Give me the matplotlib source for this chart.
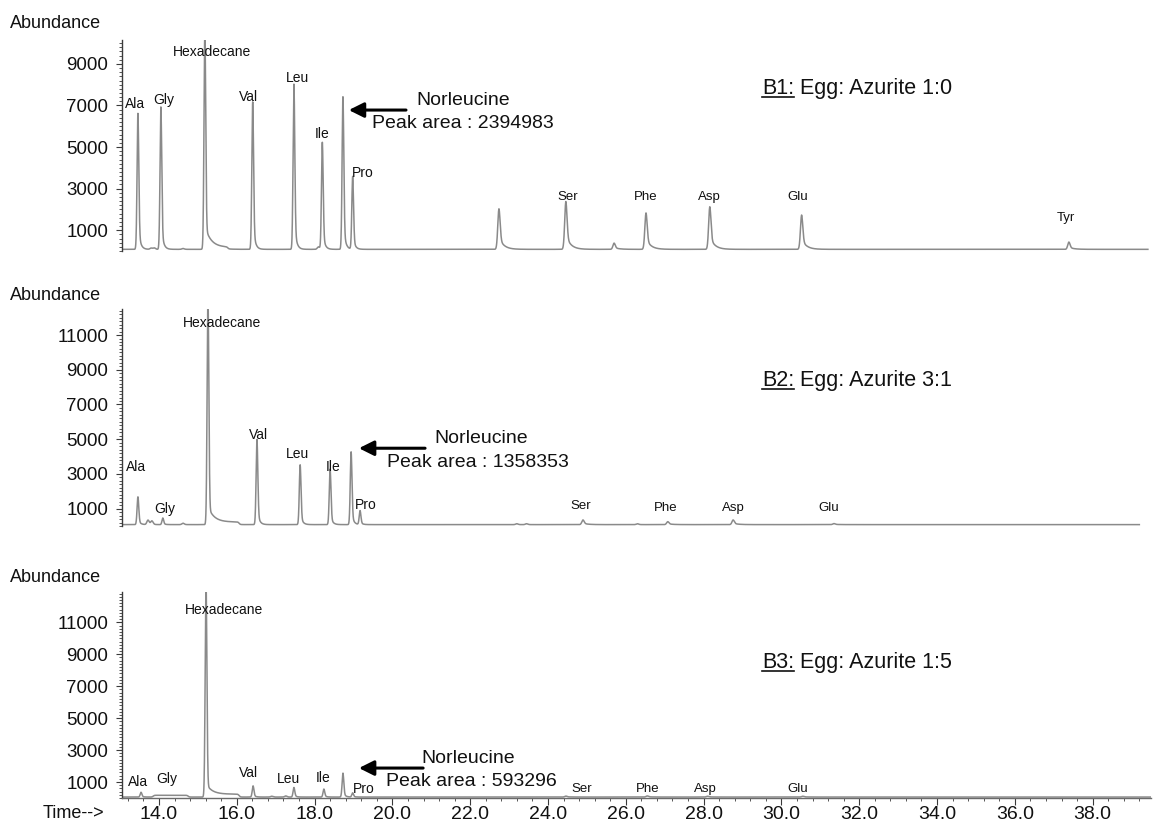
import numpy as np
import matplotlib
matplotlib.use('Agg')
import matplotlib.pyplot as plt
from matplotlib.ticker import MultipleLocator, FixedLocator
from matplotlib.lines import Line2D

plt.rcParams['font.family'] = ['Liberation Sans', 'DejaVu Sans']

# ------------------------------------------------------------------ data
# retention times (min) and peak heights (abundance above baseline)
# Panel B1: Egg: Azurite 1:0
b1_rt = [13.46, 14.05, 15.18, 16.41, 17.47, 18.20, 18.73, 18.98,
         22.74, 24.46, 25.70, 26.52, 28.16, 30.52, 37.39]
b1_height = [6550, 6850, 10400, 7100, 7950, 5150, 7350, 3500,
             1950, 2300, 300, 1750, 2050, 1650, 350]
b1_minor_rt = [13.80, 13.88, 14.62, 18.10]
b1_minor_height = [60, 70, 40, 120]
b1_labels = ['Ala', 'Gly', 'Hexadecane', 'Val', 'Leu', 'Ile', 'Pro',
             'Ser', 'Phe', 'Asp', 'Glu', 'Tyr']
b1_label_t = [13.38, 14.13, 15.36, 16.31, 17.57, 18.19, 19.24,
              24.51, 26.52, 28.16, 30.43, 37.32]
b1_label_y = [7070, 7260, 9570, 7400, 8320, 5620, 3750,
              2600, 2600, 2600, 2600, 1590]
b1_baseline = 80
b1_norleucine_area = '2394983'
b1_title = ('B1:', 'Egg: Azurite 1:0')

# Panel B2: Egg: Azurite 3:1
b2_rt = [13.46, 14.10, 15.26, 16.52, 17.63, 18.40, 18.94, 19.17,
         24.90, 27.08, 28.76, 31.35]
b2_height = [1600, 380, 13000, 4900, 3450, 3200, 4200, 800,
             270, 170, 270, 60]
b2_minor_rt = [13.72, 13.82, 14.62, 23.20, 23.45, 26.30]
b2_minor_height = [260, 210, 80, 50, 50, 50]
b2_labels = ['Ala', 'Gly', 'Hexadecane', 'Val', 'Leu', 'Ile', 'Pro',
             'Ser', 'Phe', 'Asp', 'Glu']
b2_label_t = [13.41, 14.15, 15.62, 16.55, 17.55, 18.47, 19.32,
              24.85, 27.03, 28.76, 31.22]
b2_label_y = [3390, 980, 11720, 5230, 4140, 3390, 1210,
              1150, 1030, 1030, 1030]
b2_baseline = 80
b2_norleucine_area = '1358353'
b2_title = ('B2:', 'Egg: Azurite 3:1')

# Panel B3: Egg: Azurite 1:5
b3_rt = [13.54, 15.21, 16.42, 17.47, 18.24, 18.73, 18.98,
         24.46, 26.55, 28.10, 30.55]
b3_height = [300, 13300, 700, 600, 500, 1500, 260,
             60, 70, 50, 50]
b3_minor_rt = [16.90, 17.26]
b3_minor_height = [50, 70]
b3_labels = ['Ala', 'Gly', 'Hexadecane', 'Val', 'Leu', 'Ile', 'Pro',
             'Ser', 'Phe', 'Asp', 'Glu']
b3_label_t = [13.46, 14.21, 15.67, 16.31, 17.34, 18.22, 19.27,
              24.87, 26.55, 28.04, 30.43]
b3_label_y = [1000, 1190, 11750, 1560, 1190, 1250, 560,
              560, 560, 560, 560]
b3_baseline = 60
b3_norleucine_area = '593296'
b3_title = ('B3:', 'Egg: Azurite 1:5')

x_tick_labels = ['14.0', '16.0', '18.0', '20.0', '22.0', '24.0', '26.0',
                 '28.0', '30.0', '32.0', '34.0', '36.0', '38.0']

# ------------------------------------------------------------------ layout / style
W, H = 1157, 827
fig = plt.figure(figsize=(W / 100, H / 100), dpi=100)
LINE = '#8a8a8a'
AX = '#3a3a3a'
XMIN, XMAX = 13.05, 39.5

panels = [
    dict(rt=b1_rt, h=b1_height, mrt=b1_minor_rt, mh=b1_minor_height,
         labels=b1_labels, lt=b1_label_t, ly=b1_label_y, base=b1_baseline,
         area=b1_norleucine_area, title=b1_title,
         px=(40, 251), ylim=10150, yticks=[1000, 3000, 5000, 7000, 9000],
         end=39.42, hex_tail=(0.10, 0.15), shelves=[(15.18, 15.77, 100)],
         arrow=((18.88, 6780), (20.35, 6780)),
         nor=(20.61, 7260), pa=(19.48, 6150), tpos=(29.5, 7840),
         abund_y=23),
    dict(rt=b2_rt, h=b2_height, mrt=b2_minor_rt, mh=b2_minor_height,
         labels=b2_labels, lt=b2_label_t, ly=b2_label_y, base=b2_baseline,
         area=b2_norleucine_area, title=b2_title,
         px=(309, 526), ylim=12500, yticks=[1000, 3000, 5000, 7000, 9000, 11000],
         end=39.2, hex_tail=(0.07, 0.15), shelves=[(15.26, 16.06, 150)],
         arrow=((19.14, 4480), (20.84, 4480)),
         nor=(21.07, 5060), pa=(19.86, 3680), tpos=(29.5, 8390),
         abund_y=295),
    dict(rt=b3_rt, h=b3_height, mrt=b3_minor_rt, mh=b3_minor_height,
         labels=b3_labels, lt=b3_label_t, ly=b3_label_y, base=b3_baseline,
         area=b3_norleucine_area, title=b3_title,
         px=(592, 798), ylim=12900, yticks=[1000, 3000, 5000, 7000, 9000, 11000],
         end=39.5, hex_tail=(0.05, 0.15), shelves=[(15.21, 16.06, 180), (13.85, 14.75, 110)],
         arrow=((19.14, 1875), (20.79, 1875)),
         nor=(20.74, 2500), pa=(19.84, 1060), tpos=(29.5, 8500),
         abund_y=578),
]


def peak(t, rt, h, sigma, frac, tau):
    d = t - rt
    g = np.exp(-0.5 * (d / sigma) ** 2)
    right = (1 - frac) * g + frac * np.exp(-np.clip(d, 0, None) / tau)
    return h * np.where(d < 0, g, right)


def shelf(t, a, b, lev, w=0.015):
    return lev / (1 + np.exp(-(t - a) / w)) / (1 + np.exp((t - b) / w))


title_texts = []
for i, p in enumerate(panels):
    top_px, zero_px = p['px']
    ax = fig.add_axes([122 / W, 1 - zero_px / H, (1151 - 122) / W, (zero_px - top_px) / H])
    t = np.linspace(XMIN, p['end'], 12000)
    y = np.full_like(t, float(p['base']))
    for k, (rt, h) in enumerate(zip(p['rt'], p['h'])):
        if k == int(np.argmax(p['h'])):
            fr, ta = p['hex_tail']
            y += peak(t, rt, h, 0.022, fr, ta)
        elif rt < 20:
            y += peak(t, rt, h, 0.022, 0.2, 0.05)
        else:
            y += peak(t, rt, h, 0.03, 0.3, 0.12)
    for rt, h in zip(p['mrt'], p['mh']):
        y += peak(t, rt, h, 0.03, 0.2, 0.05)
    for a, b, lev in p['shelves']:
        y += shelf(t, a, b, lev)
    ax.plot(t, y, color=LINE, lw=1.1)

    ax.set_xlim(XMIN, XMAX)
    ax.set_ylim(0, p['ylim'])
    ax.patch.set_alpha(0)
    for s in ['top', 'right']:
        ax.spines[s].set_visible(False)
    ax.spines['left'].set_color(AX)
    ax.spines['left'].set_linewidth(1.0)
    ax.yaxis.set_major_locator(FixedLocator(p['yticks']))
    ax.yaxis.set_minor_locator(MultipleLocator(200))
    ax.tick_params(axis='y', which='major', length=4, width=0.8, color=AX,
                   labelsize=13.5, pad=6, labelcolor='#111111')
    ax.tick_params(axis='y', which='minor', length=2.5, width=0.6, color=AX)

    if i < 2:
        ax.spines['bottom'].set_visible(False)
        ax.set_xticks([])
    else:
        ax.spines['bottom'].set_color('#6a6a6a')
        ax.spines['bottom'].set_linewidth(1.0)
        ax.xaxis.set_major_locator(FixedLocator([float(s) for s in x_tick_labels]))
        ax.set_xticklabels(x_tick_labels)
        ax.xaxis.set_minor_locator(MultipleLocator(0.4))
        ax.tick_params(axis='x', which='major', length=5, width=0.8, color=AX,
                       labelsize=14, pad=0.5, labelcolor='#111111')
        ax.tick_params(axis='x', which='minor', length=2.5, width=0.6, color=AX)

    # peak labels
    for lab, lt, ly in zip(p['labels'], p['lt'], p['ly']):
        fs = 10 if lt < 20 else 9.5
        ax.text(lt, ly, lab, ha='center', va='center', fontsize=fs, color='#111111')

    # norleucine arrow + texts
    (tx, ty), (sx, sy) = p['arrow']
    ax.annotate('', xy=(tx, ty), xytext=(sx, sy),
                arrowprops=dict(arrowstyle='-|>,head_length=0.9,head_width=0.45',
                                lw=2.2, color='black', shrinkA=0, shrinkB=0),
                annotation_clip=False)
    ax.text(p['nor'][0], p['nor'][1], 'Norleucine', ha='left', va='center',
            fontsize=14, color='#111111')
    ax.text(p['pa'][0], p['pa'][1], 'Peak area : ' + p['area'], ha='left',
            va='center', fontsize=14, color='#111111')

    # panel title with underlined id
    t1 = ax.text(p['tpos'][0], p['tpos'][1], p['title'][0], ha='left',
                 va='center', fontsize=15.5, color='#111111')
    ax.annotate(' ' + p['title'][1], xy=(1, 0), xycoords=t1, ha='left',
                va='bottom', fontsize=15.5, color='#111111')
    title_texts.append(t1)

    fig.text(10 / W, 1 - p['abund_y'] / H, 'Abundance', ha='left', va='center',
             fontsize=13, color='#111111')

fig.text(43 / W, 1 - 813 / H, 'Time-->', ha='left', va='center', fontsize=13,
         color='#111111')

# underline the panel ids
fig.canvas.draw()
r = fig.canvas.get_renderer()
for t1 in title_texts:
    bb = t1.get_window_extent(r)
    (x0, y0), (x1, _) = fig.transFigure.inverted().transform([[bb.x0, bb.y0 + 2], [bb.x1, bb.y0 + 2]])
    fig.add_artist(Line2D([x0, x1], [y0, y0], transform=fig.transFigure,
                          color='#111111', lw=1.2))

fig.savefig('out.png', dpi=100)
